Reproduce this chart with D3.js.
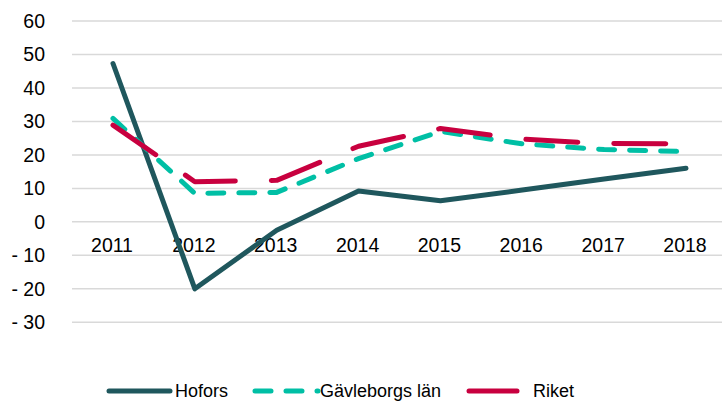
<!DOCTYPE html>
<html>
<head>
<meta charset="utf-8">
<script src="https://cdn.jsdelivr.net/npm/d3@7"></script>
<style>
    body { margin: 0; background: #fff; }
    svg { display: block; font-family: "Liberation Sans", Arial, sans-serif; }
</style>
</head>
<body>
<svg id="chart" width="722" height="401"></svg>
<script>
var years = ["2011", "2012", "2013", "2014", "2015", "2016", "2017", "2018"];
var hofors = [47.3, -20, -2.5, 9.2, 6.3, 9.5, 12.8, 16];
var gavleborg = [30.9, 8.5, 8.8, 18.9, 27.0, 23.3, 21.6, 21.0];
var riket = [28.9, 12.0, 12.4, 22.6, 27.9, 24.7, 23.4, 23.3];
var yTicks = [60, 50, 40, 30, 20, 10, 0, -10, -20, -30];

var series = [
    {name: "Hofors", values: hofors, color: "#1f575d", dash: null},
    {name: "Gävleborgs län", values: gavleborg, color: "#00bfa5", dash: "16,15"},
    {name: "Riket", values: riket, color: "#c8003f", dash: "52,36"}
];

document.addEventListener('DOMContentLoaded', function() {
    var svg = d3.select("#chart");

    var x = d3.scalePoint()
        .domain(years)
        .range([113, 686]);

    var y = d3.scaleLinear()
        .domain([-30, 60])
        .range([322.3, 21]);

    // gridlines
    svg.append("g")
        .selectAll("line")
        .data(yTicks)
        .enter()
        .append("line")
        .attr("x1", 72)
        .attr("x2", 722)
        .attr("y1", function(d) { return y(d); })
        .attr("y2", function(d) { return y(d); })
        .attr("stroke", "#d9d9d9")
        .attr("stroke-width", 1.5);

    // y labels
    svg.append("g")
        .selectAll("text")
        .data(yTicks)
        .enter()
        .append("text")
        .attr("x", 45)
        .attr("y", function(d) { return y(d); })
        .attr("dy", "0.35em")
        .attr("text-anchor", "end")
        .style("font-size", "19.5px")
        .style("fill", "#000")
        .text(function(d) { return d < 0 ? "- " + Math.abs(d) : d; });

    // x labels (under the zero line)
    svg.append("g")
        .selectAll("text")
        .data(years)
        .enter()
        .append("text")
        .attr("x", function(d) { return x(d) - 1; })
        .attr("y", y(0) + 30)
        .attr("text-anchor", "middle")
        .style("font-size", "19.5px")
        .style("fill", "#000")
        .text(function(d) { return d; });

    var line = d3.line()
        .x(function(d, i) { return x(years[i]); })
        .y(function(d) { return y(d); });

    series.forEach(function(s) {
        svg.append("path")
            .attr("d", line(s.values))
            .attr("fill", "none")
            .attr("stroke", s.color)
            .attr("stroke-width", 5)
            .attr("stroke-linecap", "round")
            .attr("stroke-linejoin", "round")
            .attr("stroke-dasharray", s.dash);
    });

    // legend
    var legendX = [109, 255, 469];
    var legendLen = [61, 63, 48];
    var legendText = [175, 320, 533];
    var legend = svg.append("g");
    series.forEach(function(s, i) {
        legend.append("line")
            .attr("x1", legendX[i])
            .attr("x2", legendX[i] + legendLen[i])
            .attr("y1", 391)
            .attr("y2", 391)
            .attr("stroke", s.color)
            .attr("stroke-width", 5)
            .attr("stroke-linecap", "round")
            .attr("stroke-dasharray", s.dash);
        legend.append("text")
            .attr("x", legendText[i])
            .attr("y", 391)
            .attr("dy", "0.35em")
            .style("font-size", "18px")
            .style("fill", "#000")
            .text(s.name);
    });
});
</script>
</body>
</html>
